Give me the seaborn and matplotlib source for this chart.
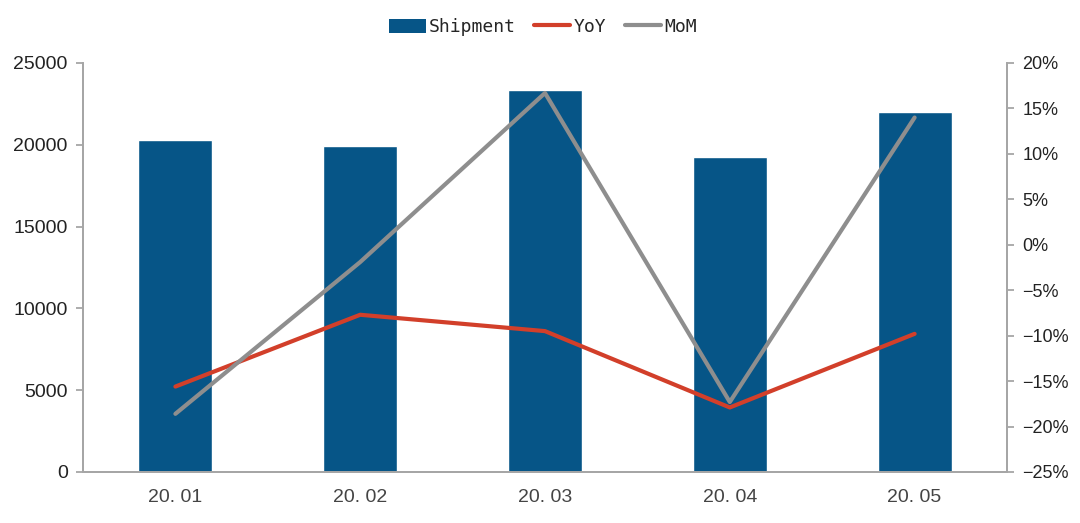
import numpy as np
import pandas as pd
import matplotlib
matplotlib.use("Agg")
import matplotlib.pyplot as plt
import seaborn as sns
from matplotlib.patches import Patch
from matplotlib.lines import Line2D
from matplotlib.ticker import FuncFormatter, FixedLocator

months = ["20. 01", "20. 02", "20. 03", "20. 04", "20. 05"]
shipment = [20300, 19950, 23350, 19250, 22000]
yoy = [-15.6, -7.7, -9.5, -17.9, -9.8]
mom = [-18.6, -1.9, 16.7, -17.3, 14.0]

bar_color = "#065587"
yoy_color = "#D23F2A"
mom_color = "#8E8E8E"
spine_color = "#A6A6A6"

sns.set_style("white")
plt.rcParams["font.family"] = ["Liberation Sans", "DejaVu Sans"]

fig = plt.figure(figsize=(10.8, 5.23), dpi=100)
ax = fig.add_axes([83/1080, (523-472)/523, 924/1080, 409/523])

df = pd.DataFrame({"month": months, "shipment": shipment})
sns.barplot(data=df, x="month", y="shipment", color=bar_color, width=0.4,
            saturation=1, ax=ax, zorder=2)
ax.set_xlim(-0.5, 4.5)
ax.set_ylim(0, 25000)
ax.set_yticks(np.arange(0, 25001, 5000))
ax.set_xlabel("")
ax.set_ylabel("")

ax2 = ax.twinx()
pos = np.arange(len(months))
sns.lineplot(x=pos, y=yoy, color=yoy_color, linewidth=3, ax=ax2, zorder=3)
sns.lineplot(x=pos, y=mom, color=mom_color, linewidth=3, ax=ax2, zorder=4)
ax2.set_ylim(-25, 20)
ax2.set_yticks(np.arange(-25, 21, 5))
ax2.yaxis.set_major_formatter(FuncFormatter(lambda v, p: f"{int(round(v))}%".replace("-", "\u2212")))
ax2.set_xlim(-0.5, 4.5)

for a in (ax, ax2):
    for s in a.spines.values():
        s.set_color(spine_color)
        s.set_linewidth(1.3)
    a.spines["top"].set_visible(False)

ax.tick_params(axis="y", which="major", direction="out", length=5, width=1.3,
               color=spine_color, labelsize=14, labelcolor="#222222", pad=6)
ax2.tick_params(axis="y", which="major", direction="out", length=5, width=1.3,
                color=spine_color, labelsize=13, labelcolor="#222222", pad=6)

# x ticks: marks at category boundaries, labels at centers
ax.xaxis.set_major_locator(FixedLocator(pos))
ax.set_xticklabels(months, fontsize=14, color="#444444",
                   family=["Liberation Sans Narrow", "Liberation Sans", "DejaVu Sans"])
ax.tick_params(axis="x", which="major", length=0, pad=12)
ax.xaxis.set_minor_locator(FixedLocator(np.arange(-0.5, 4.6, 1.0)))
ax.tick_params(axis="x", which="minor", direction="out", length=5, width=1.3,
               color=spine_color)
ax2.tick_params(axis="x", which="both", length=0)

handles = [Patch(facecolor=bar_color, edgecolor="none"),
           Line2D([], [], color=yoy_color, linewidth=3),
           Line2D([], [], color=mom_color, linewidth=3)]
fig.legend(handles, ["Shipment", "YoY", "MoM"], loc="center",
           bbox_to_anchor=(0.503, 1 - 27/523), ncol=3, frameon=False,
           prop={"family": ["DejaVu Sans Mono"], "size": 13},
           handlelength=2.0, handleheight=0.8, columnspacing=1.0, handletextpad=0.2)

fig.savefig("out.png", dpi=100)
